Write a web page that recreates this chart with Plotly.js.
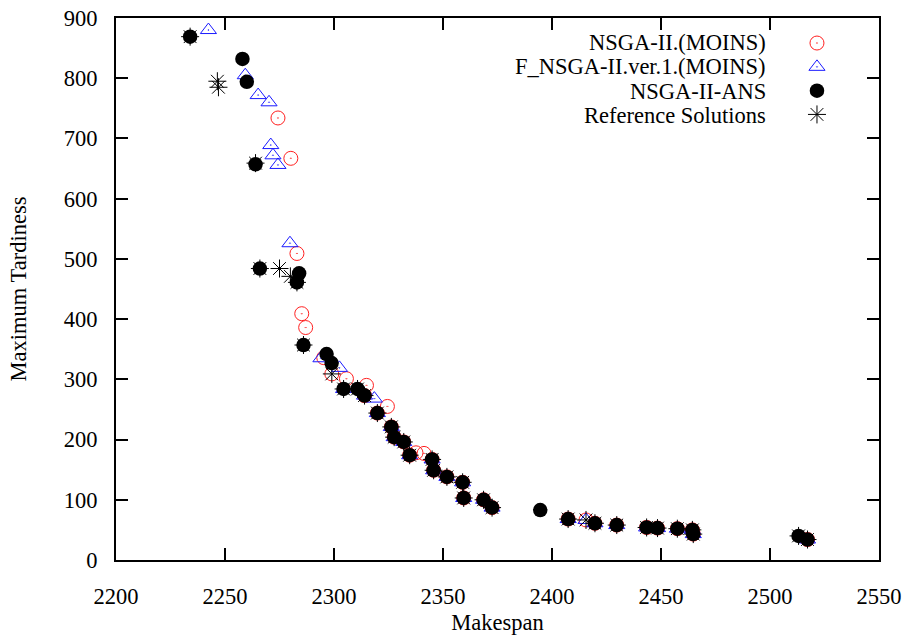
<!DOCTYPE html>
<html>
<head>
<meta charset="utf-8">
<script src="https://cdn.plot.ly/plotly-3.0.1.min.js"></script>
<style>html,body{margin:0;padding:0;background:#fff;}#chart{width:910px;height:637px;}</style>
</head>
<body>
<div id="chart"></div>
<script>
// Series names
const seriesNames = ["NSGA-II.(MOINS)", "F_NSGA-II.ver.1.(MOINS)", "NSGA-II-ANS", "Reference Solutions"];

// NSGA-II.(MOINS)
const moinsX = [2274.3,2280.2,2283,2285.2,2287,2295.3,2299,2305.7,2314.9,2324.5,2337.6,2341.3,2415.6,
  2314,2319.9,2326.3,2327.6,2332,2334.7,2345,2345.7,2351.8,2359,2359.5,2368.6,2372.5,2407.4,2419.7,2429.7,2443.4,2448.4,2457.5,2464.4,2464.8,2517.2];
const moinsY = [734,667,509,409,386,336,309,301,290,255,178,177,66.5,
  273,244,221,204,196,174,167,149,138,129,103,100,87,68,61,58,54,53,52,50,43,34];

// F_NSGA-II.ver.1.(MOINS)
const fX = [2242.4,2259.3,2265.2,2270.2,2271,2272,2274.3,2279.8,2294,2302.5,2318.5,2415.6,
  2304.4,2314,2319.9,2326.3,2327.6,2332,2334.7,2345,2345.7,2351.8,2359,2359.5,2368.6,2372.5,2407.4,2419.7,2429.7,2443.4,2448.4,2457.5,2464.4,2464.8,2517.2];
const fY = [880,805,772,760,689,672,656,526,335,319,268,66.5,
  284,273,244,221,204,196,174,167,149,138,129,103,100,87,68,61,58,54,53,52,50,43,34];

// NSGA-II-ANS
const ansX = [2234,2258,2260,2264,2266,2284,2283,2286,2296.6,2298.9,2304.4,2310.8,2314,2319.9,2326.3,2327.6,2332,2334.7,2345,2345.7,2351.8,2359,2359.5,2368.6,2372.5,2394.6,2407.4,2419.7,2429.7,2443.4,2448.4,2457.5,2464.4,2464.8,2513.1,2517.2];
const ansY = [869,832,794,657,484,476,461,357,342,327,284,284,273,244,221,204,196,174,167,149,138,129,103,100,87,83,68,61,58,54,53,52,50,43,40,34];

// Reference Solutions
const refX = [2234,2246.5,2247,2264,2266,2275,2280,2283,2286,2299,2304.4,2310.8,2314,2319.9,2326.3,2327.6,2332,2334.7,2345,2345.7,2351.8,2359,2359.5,2368.6,2372.5,2407.4,2415.6,2419.7,2429.7,2443.4,2448.4,2457.5,2464.4,2464.8,2513.1,2517.2];
const refY = [869,795,785,659,484,484,471,461,357,309,284,284,273,244,221,204,196,174,167,149,138,129,103,100,87,68,66.5,61,58,54,53,52,50,43,40,34];

const xTicks = [2200,2250,2300,2350,2400,2450,2500,2550];
const yTicks = [0,100,200,300,400,500,600,700,800,900];

const FONT = "'Liberation Serif', 'Times New Roman', serif";

const traces = [
  {x: moinsX, y: moinsY, name: " ", type: "scatter", mode: "markers",
   marker: {symbol: "circle-open-dot", size: 14, color: "#ff2020", line: {width: 1, color: "#ff2020"}}},
  {x: fX, y: fY, name: " ", type: "scatter", mode: "markers",
   marker: {symbol: "triangle-up-open-dot", size: 14, color: "#1a1aff", line: {width: 1, color: "#1a1aff"}}},
  {x: ansX, y: ansY, name: " ", type: "scatter", mode: "markers",
   marker: {symbol: "circle", size: 14.5, color: "#000000"}},
  {x: refX, y: refY, name: " ", type: "scatter", mode: "markers",
   marker: {symbol: "asterisk-open", size: 15, color: "#000000", line: {width: 1, color: "#000000"}}}
];

const legendTextX = 0.8545;
const legendRows = [0.954, 0.9096, 0.8653, 0.821];
const annotations = seriesNames.map((n, i) => ({
  xref: "paper", yref: "paper", x: legendTextX, y: legendRows[i],
  xanchor: "right", yanchor: "middle", text: n, showarrow: false,
  font: {family: FONT, size: 22.5, color: "#000"}
}));

const axisCommon = {
  showgrid: false, zeroline: false, showline: true, linecolor: "#000", linewidth: 2,
  mirror: "ticks", ticks: "inside", ticklen: 12, tickwidth: 2, tickcolor: "#000",
  tickfont: {family: FONT, size: 22.5, color: "#000"}
};

const layout = {
  width: 910, height: 637,
  margin: {l: 116, r: 31, t: 18, b: 77},
  paper_bgcolor: "#fff", plot_bgcolor: "#fff",
  showlegend: true,
  legend: {x: 0.8925, y: 0.985, xanchor: "left", yanchor: "top", bgcolor: "rgba(0,0,0,0)",
           font: {family: FONT, size: 16}, tracegroupgap: 0, itemwidth: 30},
  xaxis: Object.assign({}, axisCommon, {range: [2200, 2550], tickvals: xTicks, ticktext: xTicks.map(String),
    ticklabelstandoff: 15,
    title: {text: "Makespan", font: {family: FONT, size: 22.5, color: "#000"}, standoff: 6}}),
  yaxis: Object.assign({}, axisCommon, {range: [0, 900], tickvals: yTicks, ticktext: yTicks.map(String),
    ticklabelstandoff: 12,
    title: {text: "Maximum Tardiness", font: {family: FONT, size: 22.5, color: "#000"}, standoff: 31}}),
  annotations: annotations
};

Plotly.newPlot("chart", traces, layout, {displayModeBar: false, staticPlot: true});
</script>
</body>
</html>
